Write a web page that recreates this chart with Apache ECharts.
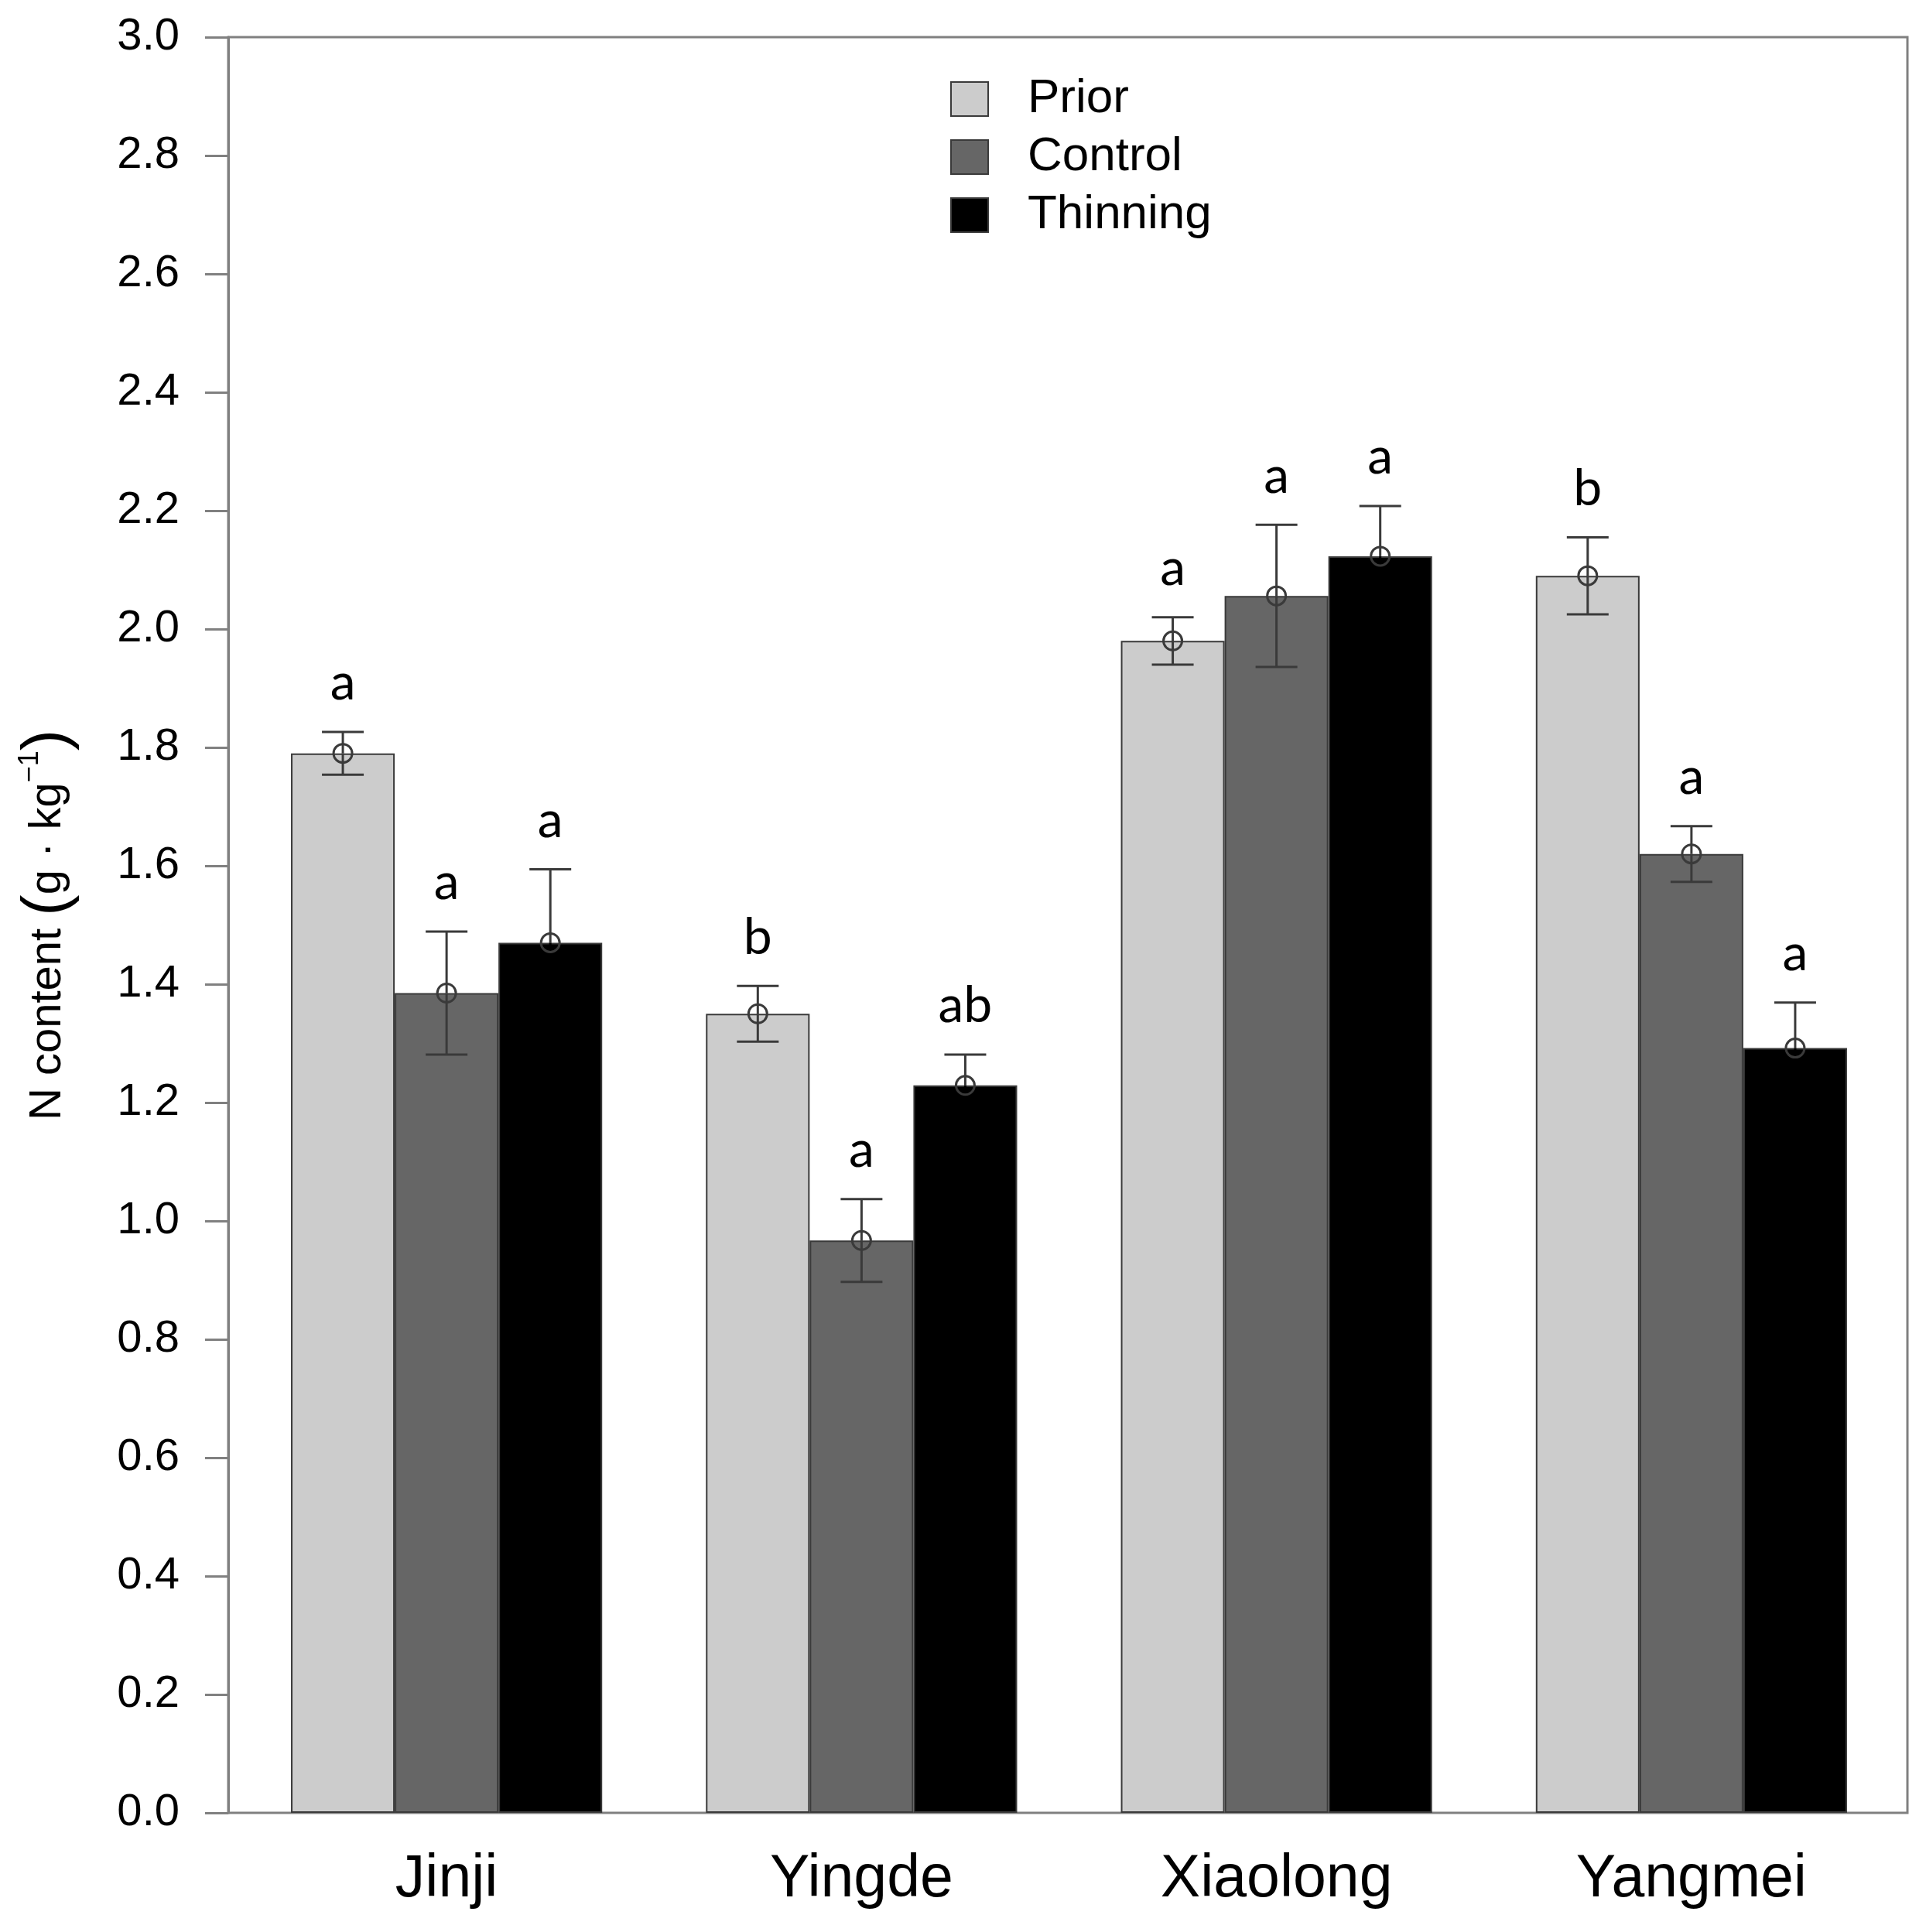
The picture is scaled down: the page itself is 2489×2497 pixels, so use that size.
<!DOCTYPE html>
<html>
<head>
<meta charset="utf-8">
<script src="https://cdn.jsdelivr.net/npm/echarts@6/dist/echarts.min.js"></script>
<style>
  html, body { margin: 0; padding: 0; background: #fff; }
  #main { width: 2489px; height: 2497px; }
</style>
</head>
<body>
<div id="main"></div>
<script>
var categories = ['Jinji', 'Yingde', 'Xiaolong', 'Yangmei'];
var seriesNames = ['Prior', 'Control', 'Thinning'];

var prior = [1.79, 1.35, 1.98, 2.09];
var control = [1.385, 0.967, 2.056, 1.62];
var thinning = [1.47, 1.229, 2.123, 1.292];

var priorErr = [0.036, 0.047, 0.04, 0.065];
var controlErr = [0.104, 0.07, 0.12, 0.047];
var thinningErr = [0.124, 0.052, 0.085, 0.077];

var priorLetters = ['a', 'b', 'a', 'b'];
var controlLetters = ['a', 'a', 'a', 'a'];
var thinningLetters = ['a', 'ab', 'a', 'a'];

var colors = ['#cccccc', '#666666', '#000000'];

// error bar items: [category index, series index, mean, err, letter]
var errData = [];
var means = [prior, control, thinning];
var errs = [priorErr, controlErr, thinningErr];
var letters = [priorLetters, controlLetters, thinningLetters];
for (var s = 0; s < 3; s++) {
    for (var i = 0; i < categories.length; i++) {
        errData.push([i, s, means[s][i], errs[s][i], letters[s][i]]);
    }
}

function renderErr(params, api) {
    var ci = api.value(0);
    var si = api.value(1);
    var m = api.value(2);
    var e = api.value(3);
    var letter = errData[params.dataIndex][4];
    var band = api.size([1, 0])[0];
    var center = api.coord([ci, m]);
    var x = center[0] + (si - 1) * band * 0.25;
    var yTop = api.coord([ci, m + e])[1];
    var yBot = api.coord([ci, m - e])[1];
    var cap = 27;
    var lineStyle = { stroke: '#3a3a3a', lineWidth: 3 };
    // lower half on black bars is black like the bar itself
    var lowStyle = si === 2 ? { stroke: '#000', lineWidth: 3 } : lineStyle;
    return {
        type: 'group',
        children: [
            { type: 'line', shape: { x1: x, y1: yTop, x2: x, y2: center[1] }, style: lineStyle },
            { type: 'line', shape: { x1: x, y1: center[1], x2: x, y2: yBot }, style: lowStyle },
            { type: 'line', shape: { x1: x - cap, y1: yTop, x2: x + cap, y2: yTop }, style: lineStyle },
            { type: 'line', shape: { x1: x - cap, y1: yBot, x2: x + cap, y2: yBot }, style: lowStyle },
            { type: 'circle', shape: { cx: x, cy: center[1], r: 12 }, style: { fill: 'none', stroke: '#3a3a3a', lineWidth: 3 } },
            {
                type: 'text',
                style: {
                    text: letter,
                    x: x,
                    y: yTop - 30,
                    align: 'center',
                    verticalAlign: 'bottom',
                    fontSize: 66,
                    fontFamily: 'Lato',
                    fill: '#000'
                }
            }
        ]
    };
}

var myChart = echarts.init(document.getElementById('main'));
var barSeries = [];
for (var k = 0; k < 3; k++) {
    barSeries.push({
        name: seriesNames[k],
        type: 'bar',
        xAxisIndex: 1,
        yAxisIndex: 1,
        barWidth: '25%',
        barGap: '0%',
        data: means[k],
        itemStyle: {
            color: colors[k],
            borderColor: '#3a3a3a',
            borderWidth: 2
        },
        z: 2
    });
}
barSeries.push({
    type: 'custom',
    xAxisIndex: 1,
    yAxisIndex: 1,
    data: errData,
    renderItem: renderErr,
    z: 5
});

var option = {
    backgroundColor: '#fff',
    animation: false,
    color: colors,
    legend: {
        data: seriesNames,
        orient: 'vertical',
        left: 1223,
        top: 92,
        itemWidth: 48,
        itemHeight: 44,
        itemGap: 13,
        icon: 'rect',
        formatter: function (n) { return '{g|}' + n; },
        textStyle: {
            fontSize: 62,
            fontFamily: 'Liberation Sans',
            color: '#000',
            rich: { g: { width: 46 } }
        }
    },
    grid: [
        { left: 295, right: 24, top: 48, bottom: 154, show: true, borderColor: '#808080', borderWidth: 3 },
        { left: 309, right: 35, top: 48, bottom: 154 }
    ],
    xAxis: [
        { type: 'category', gridIndex: 0, data: categories, show: false },
        {
            type: 'category',
            gridIndex: 1,
            data: categories,
            axisLine: { show: false },
            axisTick: { show: false },
            axisLabel: { fontSize: 77, fontFamily: 'Liberation Sans', color: '#000', margin: 48 }
        }
    ],
    yAxis: [
        {
            type: 'value',
            gridIndex: 0,
            min: 0,
            max: 3,
            interval: 0.2,
            axisLine: { show: true, lineStyle: { color: '#808080', width: 3 } },
            axisTick: { show: true, length: 30, lineStyle: { color: '#808080', width: 3 } },
            splitLine: { show: false },
            axisLabel: {
                fontSize: 58,
                fontFamily: 'Liberation Sans',
                color: '#000',
                margin: 63,
                formatter: function (v) { return v.toFixed(1); }
            },
            name: 'N content {p|(}g · kg{sup|−1}{p|)}',
            nameLocation: 'middle',
            nameGap: 192,
            nameTextStyle: {
                fontSize: 58,
                fontFamily: 'Liberation Sans',
                color: '#000',
                rich: {
                    p: { fontSize: 82, fontFamily: 'Liberation Sans', color: '#000' },
                    sup: { fontSize: 36, fontFamily: 'Liberation Sans', color: '#000', verticalAlign: 'top' }
                }
            }
        },
        { type: 'value', gridIndex: 1, min: 0, max: 3, interval: 0.2, show: false, splitLine: { show: false } }
    ],
    series: barSeries
};
myChart.setOption(option);
</script>
</body>
</html>
